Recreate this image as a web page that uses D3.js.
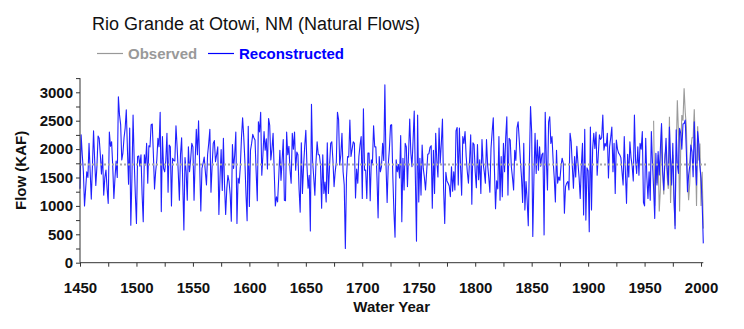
<!DOCTYPE html>
<html><head><meta charset="utf-8">
<script src="https://cdn.jsdelivr.net/npm/d3@7"></script>
<style>
html,body{margin:0;padding:0;background:#fff;}
svg{display:block;font-family:"Liberation Sans",Arial,Helvetica,sans-serif;}
</style></head>
<body><svg id="c" width="744" height="329"></svg>
<script>
const titleText = "Rio Grande at Otowi, NM (Natural Flows)";
const xLabel = "Water Year";
const yLabel = "Flow (KAF)";
const legendLabels = ["Observed", "Reconstructed"];
const reconStartYear = 1450;
const obsStartYear = 1958;
const meanFlow = 1730;
const xTickYears = [1450,1500,1550,1600,1650,1700,1750,1800,1850,1900,1950,2000];
const xMinorYears = [1475,1525,1575,1625,1675,1725,1775,1825,1875,1925,1975];
const yTickValues = [0,500,1000,1500,2000,2500,3000];
const yMinorValues = [250,750,1250,1750,2250,2750,3250];

const recon1450s = [
 1300,2250,1900,1600,1000,1300,1600,1500,2100,1600,
 1120,1700,2320,1800,1360,1700,2230,2190,1900,1560,
 1900,1190,1500,1630,1300,1045,2300,2050,2130,1700,
 1130,1500,1790,1500,2920,2600,2430,1810,1930,2200,
 2370,2690,2000,1380,2370,660,1500,2600,1800,1200];
const recon1500s = [
 690,1870,1880,1700,1900,1200,720,1900,1720,2100,
 1400,2060,2040,2430,2440,1900,1300,1600,1800,2190,
 2040,2650,900,2220,1660,1600,1800,2280,1240,2070,
 2040,1000,1840,1800,1790,2410,2040,1600,1100,1900,
 2200,1400,575,1850,1600,1100,2040,1600,1820,2100,
 2040,1100,1800,2350,1900,2500,1700,910,1660,1750,
 1860,1600,1370,1900,2100,2350,1240,1700,2100,2150,
 1780,1900,2040,850,1500,1990,1270,2190,1350,850,
 1300,1540,1430,1200,730,2080,1660,1900,2300,690,
 1490,1400,1700,2200,2550,2220,1800,1200,740,2400];
const recon1600s = [
 990,1980,2100,2260,2200,2160,1600,1090,2480,2300,
 2650,1540,1900,2310,1980,2180,1650,2540,2420,1810,
 2000,2280,1600,1000,1160,1070,1500,1980,1450,1800,
 2170,1100,1090,2300,1900,2050,1630,1400,2280,2000,
 2300,1630,1950,1900,1300,890,2110,1220,1700,2050,
 2330,1700,1310,1540,560,2790,1790,1500,1190,1770,
 2130,1900,1900,1720,960,1900,1220,1420,1070,2110,
 1220,1700,2100,2130,1800,1340,1600,1770,2650,2520,
 1720,1900,2280,1600,1370,250,1500,1870,1860,2510,
 1870,2000,2130,2100,1140,1650,1400,1870,2070,2220];
const recon1700s = [
 1130,2710,1630,1630,1130,1930,1930,1090,1810,1750,
 2410,2040,2040,1500,790,1870,1600,1690,2100,1800,
 3130,1720,1060,1730,2000,2420,2430,1540,900,450,
 1810,1600,1730,1490,2240,720,1840,1280,2100,2040,
 1340,1930,2530,1930,1690,2160,2670,1500,380,2600,
 1070,1840,1190,2070,1660,1500,1280,1600,1910,1920,
 2030,2060,960,1980,1220,2280,1800,1510,2370,1750,
 2100,2530,1300,690,1590,1440,1400,1350,1160,1690,
 1260,1600,1280,2320,2380,1370,2370,1700,1190,2220,
 2100,2310,1870,1600,1400,1800,2250,1030,2110,2080];
const recon1800s = [
 1600,1320,2080,1460,1810,1220,2170,1750,1600,1400,
 2170,1720,1500,1240,2010,2300,2550,1660,950,1440,
 1300,2220,1100,1870,1160,2100,1600,2200,2570,1190,
 2190,2160,1690,1500,1280,1980,1800,2370,2480,2160,
 1800,1500,1060,2100,930,1430,1100,650,1780,2750,
 2300,460,1500,2280,1570,2160,1630,2040,1700,1900,
 1930,490,2650,1800,1280,2480,2570,2100,2220,1800,
 1490,1070,1980,1400,1510,1450,1700,1840,1750,870,
 1340,1400,1430,1280,2280,2130,1700,1310,1870,1510,
 2050,1750,1500,1130,1700,2100,840,2350,750,1670];
const recon1900s = [
 1620,545,2390,930,2000,2280,2010,2300,1540,1900,
 2250,2170,2200,2600,1980,2100,2050,2280,1490,2040,
 2200,2390,1600,2100,1220,2160,2000,1930,1900,1850,
 1600,1370,2220,1600,1045,1910,1510,2130,1850,1700,
 1440,2600,1810,1570,2040,1540,2100,2000,2310,1060,
 1000,2190,1500,1130,1600,1100,2310,1750,1300,780,
 1925,1370,1955,1544,2000,2450,1600,1280,1800,2190,
 1660,1370,2390,1800,1370,2100,1190,600,2340,1720,
 1570,2365,2280,2000,2440,2450,2510,1955,1250,1540,
 1700,2070,1950,1514,2480,1780,1370,2310,2100,1690,
 1485,1045,340];
const observedFlow = [
 2500,1000,1700,1400,1900,900,1300,2400,1600,1200,
 1900,2000,1500,1300,2570,1050,1700,1900,1100,650,
 1900,2860,2300,900,2000,2600,2500,3070,2650,2400,
 1500,1100,1400,2000,2200,2200,2700,2000,1000,2400,
 1800,2100,1000,1600,600];

const reconstructed = [].concat(recon1450s, recon1500s, recon1600s, recon1700s, recon1800s, recon1900s);
const reconData = reconstructed.map((v,i)=>({year: reconStartYear+i, v}));
const obsData = observedFlow.map((v,i)=>({year: obsStartYear+i, v}));

const svg = d3.select("#c");
const x = d3.scaleLinear().domain([1450, 2002]).range([80, 703.3]);
const y = d3.scaleLinear().domain([0, 3250]).range([262.7, 78.1]);
const axisColor = "#333";
const font = '"Liberation Sans",Arial,sans-serif';

// title
svg.append("text").attr("x", 92).attr("y", 29.5)
  .attr("font-size", 18).attr("fill", "#111").text(titleText);

// legend
const legColors = ["#999999", "#0000ff"];
const legX = [97, 208];
legendLabels.forEach((t,i)=>{
  svg.append("line").attr("x1", legX[i]).attr("x2", legX[i]+26)
    .attr("y1", 53.5).attr("y2", 53.5).attr("stroke", legColors[i]).attr("stroke-width", 1.2);
  svg.append("text").attr("x", legX[i]+31).attr("y", 59)
    .attr("font-size", 15).attr("font-weight", "bold").attr("fill", legColors[i]).text(t);
});

// lines
const line = d3.line().x(d=>x(d.year)).y(d=>y(d.v));
svg.append("path").datum(obsData).attr("d", line)
  .attr("fill","none").attr("stroke","#9a9a9a").attr("stroke-width",1.1);
svg.append("path").datum(reconData).attr("d", line)
  .attr("fill","none").attr("stroke","#2020ff").attr("stroke-width",1.1)
  .attr("stroke-linejoin","round");

// mean line
svg.append("line").attr("x1", x(1450)).attr("x2", x(2005))
  .attr("y1", y(meanFlow)).attr("y2", y(meanFlow))
  .attr("stroke", "#a8a8a8").attr("stroke-width", 2).attr("stroke-dasharray", "2,2");

// x axis
const gx = svg.append("g").attr("transform", `translate(0,${y(0)})`);
gx.call(d3.axisBottom(x).tickValues(xTickYears).tickSize(4).tickPadding(16).tickFormat(d3.format("d")));
gx.append("g").call(d3.axisBottom(x).tickValues(xMinorYears).tickSize(4).tickFormat(""))
  .select(".domain").remove();
gx.selectAll(".domain").attr("d", `M${x(1450)},0H${x(2002)}`).attr("stroke", axisColor);
gx.selectAll("line").attr("stroke", axisColor);
gx.selectAll("text").attr("font-size", 15).attr("font-weight", "bold")
  .attr("font-family", font).attr("fill", "#111");

// y axis
const gy = svg.append("g").attr("transform", `translate(${x(1450)},0)`);
gy.call(d3.axisLeft(y).tickValues(yTickValues).tickSize(4).tickPadding(3).tickFormat(d3.format("d")));
gy.append("g").call(d3.axisLeft(y).tickValues(yMinorValues).tickSize(4).tickFormat(""))
  .select(".domain").remove();
gy.selectAll(".domain").attr("d", `M0,${y(3250)}V${y(0)}`).attr("stroke", axisColor);
gy.selectAll("line").attr("stroke", axisColor);
gy.selectAll("text").attr("font-size", 15).attr("font-weight", "bold")
  .attr("font-family", font).attr("fill", "#111");

// axis titles
svg.append("text").attr("x", (x(1450)+x(2002))/2).attr("y", 312)
  .attr("text-anchor","middle").attr("font-size",15).attr("font-weight","bold")
  .attr("fill","#111").text(xLabel);
svg.append("text").attr("transform", `translate(26,${(y(0)+y(3250))/2}) rotate(-90)`)
  .attr("text-anchor","middle").attr("font-size",15).attr("font-weight","bold")
  .attr("fill","#111").text(yLabel);
</script></body></html>
